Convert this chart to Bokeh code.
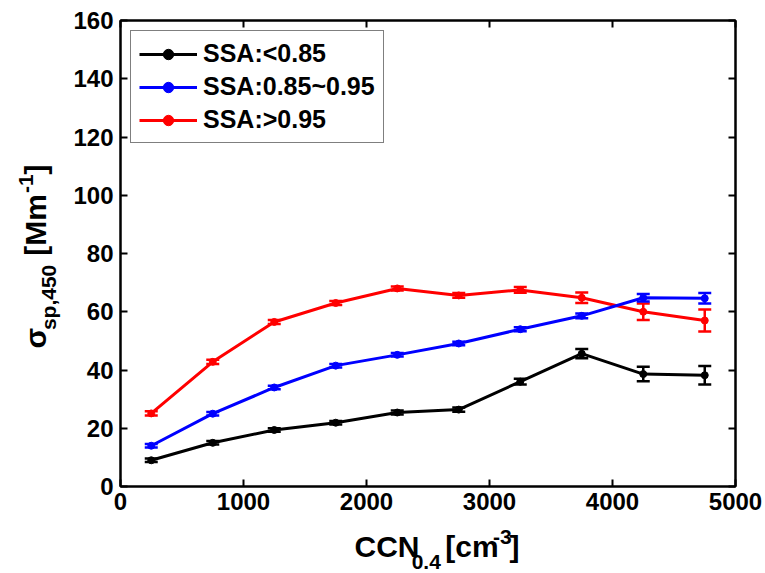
from math import pi
from bokeh.plotting import figure
from bokeh.layouts import row, column
from bokeh.core.properties import value
from bokeh.models import (ColumnDataSource, Whisker, Legend, LegendItem, LinearAxis,
                          Range1d, FixedTicker, TeeHead)
from bokeh.embed import file_html
from bokeh.resources import INLINE

# ---------------- data ----------------
ccn = [250, 750, 1250, 1750, 2250, 2750, 3250, 3750, 4250, 4750]
ssa_low = [9.0, 15.0, 19.4, 21.9, 25.4, 26.4, 36.0, 45.6, 38.6, 38.2]
ssa_low_err = [0.6, 0.6, 0.6, 0.6, 0.7, 0.7, 1.0, 1.6, 2.5, 3.2]
ssa_mid = [14.0, 25.0, 34.0, 41.5, 45.2, 49.1, 54.0, 58.6, 64.8, 64.6]
ssa_mid_err = [0.6, 0.6, 0.6, 0.6, 0.6, 0.6, 0.7, 0.8, 1.3, 1.8]
ssa_high = [25.1, 42.8, 56.5, 63.0, 68.0, 65.6, 67.5, 64.8, 60.0, 57.0]
ssa_high_err = [0.7, 0.7, 0.7, 0.7, 0.7, 0.8, 1.0, 1.8, 2.8, 3.8]

labels = ["SSA:<0.85", "SSA:0.85~0.95", "SSA:>0.95"]
x_ticks = [0, 1000, 2000, 3000, 4000, 5000]
y_ticks = [0, 20, 40, 60, 80, 100, 120, 140, 160]

# ---------------- layout ----------------
W, H = 765, 573
YLAB_W = 66          # strip holding the y title
XLAB_H = 50          # strip holding the x title
MAIN_W, MAIN_H = W - YLAB_W, H - XLAB_H
BL, BR, BT = 120 - YLAB_W, 30, 20
BB = MAIN_H - 486
FONT = "Liberation Sans"
X0, X1, Y0, Y1 = 0, 5000, 0, 160

p = figure(width=MAIN_W, height=MAIN_H, x_range=Range1d(X0, X1), y_range=Range1d(Y0, Y1),
           output_backend="svg", toolbar_location=None,
           min_border_left=BL, min_border_right=BR, min_border_top=BT, min_border_bottom=BB)
p.background_fill_color = "white"
p.border_fill_color = "white"
p.outline_line_color = "black"
p.outline_line_width = 2
p.xgrid.grid_line_color = None
p.ygrid.grid_line_color = None


def style_axis(ax, ticks, show):
    ax.ticker = FixedTicker(ticks=ticks)
    ax.axis_line_color = "black"
    ax.axis_line_width = 2
    ax.major_tick_in = 7
    ax.major_tick_out = 0
    ax.major_tick_line_width = 2
    ax.major_tick_line_color = "black"
    ax.minor_tick_line_color = None
    ax.major_label_text_font = FONT
    ax.major_label_text_font_style = "bold"
    if show:
        ax.major_label_text_color = "black"
        ax.major_label_text_font_size = "24px"
        ax.major_label_standoff = 7
    else:
        ax.major_label_text_color = None
        ax.major_label_text_font_size = "0px"
        ax.major_label_standoff = 0
    ax.axis_label = None


style_axis(p.xaxis[0], x_ticks, True)
p.xaxis[0].major_label_standoff = 6
style_axis(p.yaxis[0], y_ticks, True)
top = LinearAxis()
style_axis(top, x_ticks, False)
p.add_layout(top, "above")
right = LinearAxis()
style_axis(right, y_ticks, False)
p.add_layout(right, "right")

# ---------------- series ----------------
series = [
    (ssa_high, ssa_high_err, "#ff0000"),
    (ssa_mid, ssa_mid_err, "#0000ff"),
    (ssa_low, ssa_low_err, "#000000"),
]
rends = {}
for vals, errs, col in series:
    src = ColumnDataSource(dict(x=ccn, y=vals,
                                upper=[v + e for v, e in zip(vals, errs)],
                                lower=[v - e for v, e in zip(vals, errs)]))
    w = Whisker(base="x", upper="upper", lower="lower", source=src, dimension="height",
                line_color=col, line_width=2.5,
                upper_head=TeeHead(size=13, line_color=col, line_width=2.5),
                lower_head=TeeHead(size=13, line_color=col, line_width=2.5))
    p.add_layout(w)
    ln = p.line("x", "y", source=src, line_color=col, line_width=3)
    sc = p.scatter("x", "y", source=src, marker="circle", size=7,
                   fill_color=col, line_color=col)
    rends[col] = [ln, sc]

legend = Legend(items=[
    LegendItem(label=labels[0], renderers=rends["#000000"]),
    LegendItem(label=labels[1], renderers=rends["#0000ff"]),
    LegendItem(label=labels[2], renderers=rends["#ff0000"]),
], location="top_left")
legend.label_text_font = FONT
legend.label_text_font_style = "bold"
legend.label_text_font_size = "25px"
legend.label_text_color = "black"
legend.glyph_width = 58
legend.glyph_height = 26
legend.label_height = 26
legend.spacing = 4
legend.padding = 8
legend.margin = 10
legend.label_standoff = 6
legend.border_line_color = "black"
legend.border_line_width = 1.5
legend.background_fill_color = "white"
legend.background_fill_alpha = 1
p.add_layout(legend)

# ---------------- axis titles with sub/superscripts ----------------
ADV = {"C": .722, "N": .722, "S": .667, "A": .722, "M": .833, ".": .278, ",": .278,
       " ": .278, "[": .333, "]": .333, "c": .556, "m": .889, "s": .556, "p": .611,
       "-": .333, "σ": .617}
BASE_FIX = 0.36   # text glyph baseline sits this many em lower than requested


def tw(s, size):
    return sum(ADV.get(ch, .556) for ch in s) * size


def strip(width, height):
    f = figure(width=width, height=height, x_range=Range1d(0, width), y_range=Range1d(0, height),
               output_backend="svg", toolbar_location=None,
               x_axis_location=None, y_axis_location=None,
               min_border_left=0, min_border_right=0, min_border_top=0, min_border_bottom=0)
    f.outline_line_color = None
    f.background_fill_color = "white"
    f.border_fill_color = "white"
    f.xgrid.grid_line_color = None
    f.ygrid.grid_line_color = None
    return f


MAIN, SMALL = 30, 21
GAP = 9  # word space before the bracket
# (text, font size, baseline shift in px (+ = lowered), extra gap before)
xl_parts = [("CCN", MAIN, 0, 0), ("0.4", SMALL, 12, 0), ("[cm", MAIN, 0, GAP),
            ("-3", SMALL, -13, 1), ("]", MAIN, 0, 0)]
yl_parts = [("σ", MAIN, 0, 0), ("sp,450", SMALL, 10, 0), ("[Mm", MAIN, 0, GAP),
            ("-1", SMALL, -13, 1), ("]", MAIN, 0, 0)]

# x title strip: page coords x in [YLAB_W,765], y in [MAIN_H,573]
xl = strip(MAIN_W, XLAB_H)
total = sum(tw(t, s) + g for t, s, _, g in xl_parts)
cx = 425 - total / 2
xs, ys, ts, ss = [], [], [], []
for t, s, off, g in xl_parts:
    cx += g
    xs.append(cx - YLAB_W)
    ys.append(H - (557 + off - BASE_FIX * s))
    ts.append(t)
    ss.append(f"{s}px")
    cx += tw(t, s)
xl.text(x="x", y="y", text="text", text_font_size="size",
        source=ColumnDataSource(dict(x=xs, y=ys, text=ts, size=ss)),
        text_font=value(FONT), text_font_style="bold", text_color="black",
        text_align="left", text_baseline="alphabetic")

# y title strip: page coords x in [0,YLAB_W], y in [0,573]
yl = strip(YLAB_W, H)
total = sum(tw(t, s) + g for t, s, _, g in yl_parts)
cy = 256 + total / 2
xs, ys, ts, ss = [], [], [], []
for t, s, off, g in yl_parts:
    cy -= g
    xs.append(46 + off - BASE_FIX * s)
    ys.append(H - cy)
    ts.append(t)
    ss.append(f"{s}px")
    cy -= tw(t, s)
yl.text(x="x", y="y", text="text", text_font_size="size",
        source=ColumnDataSource(dict(x=xs, y=ys, text=ts, size=ss)),
        text_font=value(FONT), text_font_style="bold", text_color="black",
        text_align="left", text_baseline="alphabetic", angle=pi / 2)

layout = row(yl, column(p, xl))
open("out.html", "w").write(file_html(layout, INLINE))
